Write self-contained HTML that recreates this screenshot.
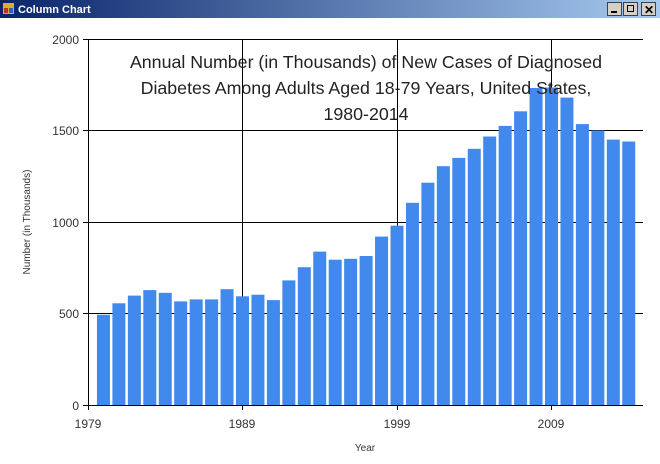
<!DOCTYPE html>
<html><head><meta charset="utf-8"><style>
body{margin:0;width:660px;height:459px;overflow:hidden;background:#fff;font-family:"Liberation Sans",sans-serif}
</style></head><body>
<svg width="660" height="459" xmlns="http://www.w3.org/2000/svg" font-family="Liberation Sans, sans-serif">
<defs><linearGradient id="tb" x1="0" x2="1"><stop offset="0" stop-color="#0a246a"/><stop offset="1" stop-color="#a6caf0"/></linearGradient></defs>
<rect x="0" y="0" width="660" height="18" fill="url(#tb)"/>
<rect x="3" y="3" width="11" height="11" fill="#d8b030"/><rect x="4" y="8" width="4" height="5" fill="#c03020"/><rect x="9" y="8" width="4" height="5" fill="#3060c0"/>
<text x="18" y="13" font-size="11" font-weight="bold" fill="#fff">Column Chart</text>
<g fill="#d4d0c8" stroke="#404040" stroke-width="1">
<rect x="607.5" y="2.5" width="14" height="13"/><rect x="623.5" y="2.5" width="14" height="13"/><rect x="641.5" y="2.5" width="14" height="13"/></g>
<rect x="611" y="11" width="6" height="2" fill="#000"/>
<rect x="627.5" y="5.5" width="6" height="6" fill="none" stroke="#000"/>
<text x="644" y="14" font-size="12" font-weight="bold">✕</text>
<g stroke="#000" stroke-width="1">
<line x1="88" y1="39.5" x2="643" y2="39.5"/>
<line x1="88" y1="130.5" x2="643" y2="130.5"/>
<line x1="88" y1="222.5" x2="643" y2="222.5"/>
<line x1="88" y1="313.5" x2="643" y2="313.5"/>
<line x1="242.5" y1="39" x2="242.5" y2="405"/>
<line x1="397.5" y1="39" x2="397.5" y2="405"/>
<line x1="551.5" y1="39" x2="551.5" y2="405"/>
</g>
<g fill="#4189ec">
<rect x="96.95" y="314.8" width="13" height="90.2"/>
<rect x="112.4" y="303.3" width="13" height="101.7"/>
<rect x="127.85" y="295.6" width="13" height="109.4"/>
<rect x="143.3" y="290.1" width="13" height="114.9"/>
<rect x="158.75" y="292.8" width="13" height="112.2"/>
<rect x="174.2" y="301.4" width="13" height="103.6"/>
<rect x="189.65" y="299.4" width="13" height="105.6"/>
<rect x="205.1" y="299.4" width="13" height="105.6"/>
<rect x="220.55" y="289.2" width="13" height="115.8"/>
<rect x="236" y="296.3" width="13" height="108.7"/>
<rect x="251.45" y="294.7" width="13" height="110.3"/>
<rect x="266.9" y="300.1" width="13" height="104.9"/>
<rect x="282.35" y="280.4" width="13" height="124.6"/>
<rect x="297.8" y="267.2" width="13" height="137.8"/>
<rect x="313.25" y="251.6" width="13" height="153.4"/>
<rect x="328.7" y="259.7" width="13" height="145.3"/>
<rect x="344.15" y="258.8" width="13" height="146.2"/>
<rect x="359.6" y="256.0" width="13" height="149.0"/>
<rect x="375.05" y="236.6" width="13" height="168.4"/>
<rect x="390.5" y="225.7" width="13" height="179.3"/>
<rect x="405.95" y="202.8" width="13" height="202.2"/>
<rect x="421.4" y="182.7" width="13" height="222.3"/>
<rect x="436.85" y="166.2" width="13" height="238.8"/>
<rect x="452.3" y="157.9" width="13" height="247.1"/>
<rect x="467.75" y="148.8" width="13" height="256.2"/>
<rect x="483.2" y="136.5" width="13" height="268.5"/>
<rect x="498.65" y="125.9" width="13" height="279.1"/>
<rect x="514.1" y="111.3" width="13" height="293.7"/>
<rect x="529.55" y="88.0" width="13" height="317.0"/>
<rect x="545" y="87.5" width="13" height="317.5"/>
<rect x="560.45" y="97.6" width="13" height="307.4"/>
<rect x="575.9" y="124.1" width="13" height="280.9"/>
<rect x="591.35" y="130.5" width="13" height="274.5"/>
<rect x="606.8" y="139.6" width="13" height="265.4"/>
<rect x="622.25" y="141.5" width="13" height="263.5"/>
</g>
<g font-size="17.8" fill="#222" text-anchor="middle">
<text x="366" y="68">Annual Number (in Thousands) of New Cases of Diagnosed</text>
<text x="366" y="94">Diabetes Among Adults Aged 18-79 Years, United States,</text>
<text x="366" y="120">1980-2014</text>
</g>
<g stroke="#000" stroke-width="1">
<line x1="88.5" y1="39" x2="88.5" y2="410"/>
<line x1="83" y1="405.5" x2="643" y2="405.5"/>
<line x1="83" y1="39.5" x2="88" y2="39.5"/><line x1="83" y1="130.5" x2="88" y2="130.5"/><line x1="83" y1="222.5" x2="88" y2="222.5"/><line x1="83" y1="313.5" x2="88" y2="313.5"/>
<line x1="242.5" y1="405" x2="242.5" y2="410"/><line x1="397.5" y1="405" x2="397.5" y2="410"/><line x1="551.5" y1="405" x2="551.5" y2="410"/>
</g>
<g font-size="12" fill="#333" text-anchor="end">
<text x="79" y="44">2000</text><text x="79" y="135">1500</text><text x="79" y="227">1000</text><text x="79" y="318">500</text><text x="79" y="410">0</text>
</g>
<g font-size="12" fill="#333" text-anchor="middle">
<text x="88" y="428">1979</text><text x="242" y="428">1989</text><text x="397" y="428">1999</text><text x="551" y="428">2009</text>
</g>
<text x="365" y="451" font-size="10" fill="#333" text-anchor="middle">Year</text>
<text transform="translate(30,222) rotate(-90)" font-size="10" fill="#333" text-anchor="middle">Number (in Thousands)</text>
</svg>
</body></html>
